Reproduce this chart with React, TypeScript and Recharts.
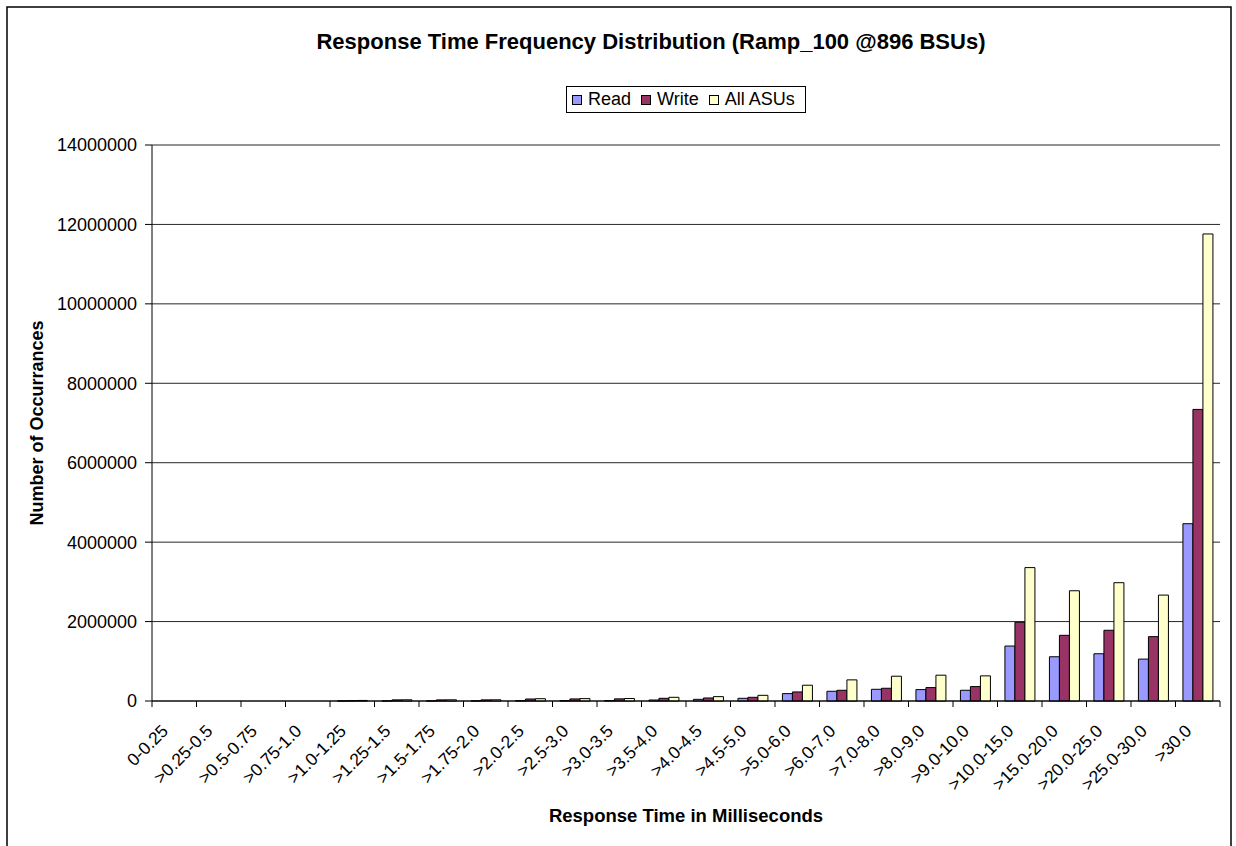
// Response time frequency distribution – grouped bar chart (Recharts)

import { BarChart, Bar, XAxis, YAxis, CartesianGrid } from 'recharts';

const categories = [
  '0-0.25', '>0.25-0.5', '>0.5-0.75', '>0.75-1.0', '>1.0-1.25', '>1.25-1.5',
  '>1.5-1.75', '>1.75-2.0', '>2.0-2.5', '>2.5-3.0', '>3.0-3.5', '>3.5-4.0',
  '>4.0-4.5', '>4.5-5.0', '>5.0-6.0', '>6.0-7.0', '>7.0-8.0', '>8.0-9.0',
  '>9.0-10.0', '>10.0-15.0', '>15.0-20.0', '>20.0-25.0', '>25.0-30.0', '>30.0',
];

const readValues = [
  0, 0, 0, 0, 1000, 2000, 2000, 2000, 8000, 8000, 9000, 25000,
  42000, 68000, 186000, 245000, 295000, 287000, 270000, 1384000, 1114000, 1190000, 1055000, 4464000,
];

const writeValues = [
  0, 0, 0, 0, 8000, 28000, 28000, 28000, 50000, 52000, 54000, 68000,
  76000, 93000, 228000, 270000, 321000, 338000, 363000, 1983000, 1654000, 1781000, 1620000, 7342000,
];

const allValues = [
  0, 0, 0, 0, 14000, 30000, 30000, 30000, 58000, 60000, 63000, 93000,
  110000, 143000, 397000, 532000, 624000, 650000, 633000, 3359000, 2776000, 2979000, 2667000, 11760000,
];

const yTicks = [0, 2000000, 4000000, 6000000, 8000000, 10000000, 12000000, 14000000];

const series = [
  { key: 'read', name: 'Read', color: '#9999FF' },
  { key: 'write', name: 'Write', color: '#993366' },
  { key: 'all', name: 'All ASUs', color: '#FFFFCC' },
];

const data = categories.map((name, i) => ({
  name,
  read: readValues[i],
  write: writeValues[i],
  all: allValues[i],
}));

const WIDTH = 1236;
const HEIGHT = 846;
const PLOT_LEFT = 152;
const PLOT_RIGHT = 1220;
const PLOT_TOP = 145;
const PLOT_BOTTOM = 701;
const Y_AXIS_W = 80;
const X_AXIS_H = 90;
const FONT = '"Liberation Sans", Arial, sans-serif';

const halfBand = (PLOT_RIGHT - PLOT_LEFT) / categories.length / 2;

function XTick({ x, y, payload, index }: any) {
  return (
    <g transform={`translate(${x},${y})`}>
      {index === 0 && <line x1={-halfBand} y1={0} x2={-halfBand} y2={6} stroke="#000" />}
      <line x1={halfBand} y1={0} x2={halfBand} y2={6} stroke="#000" />
      <text
        x={0}
        y={0}
        transform="translate(-5,31) rotate(-45)"
        textAnchor="end"
        fontSize={17.5}
        fontFamily={FONT}
        fill="#000"
      >
        {payload.value}
      </text>
    </g>
  );
}

function ChartLegend() {
  return (
    <div
      style={{
        position: 'absolute',
        left: 566,
        top: 86,
        width: 240,
        height: 27,
        boxSizing: 'border-box',
        border: '1px solid #000',
        background: '#fff',
        display: 'flex',
        alignItems: 'center',
        paddingLeft: 5,
        whiteSpace: 'nowrap',
        fontFamily: FONT,
        fontSize: 18,
        color: '#000',
      }}
    >
      {series.map((s, i) => (
        <span
          key={s.key}
          style={{ display: 'flex', alignItems: 'center', flexShrink: 0, marginRight: i < series.length - 1 ? 10 : 0 }}
        >
          <span
            style={{
              display: 'inline-block',
              width: 10,
              height: 10,
              boxSizing: 'border-box',
              border: '1.5px solid #000',
              background: s.color,
              marginRight: 6,
            }}
          />
          {s.name}
        </span>
      ))}
    </div>
  );
}

export default function App() {
  return (
    <div style={{ position: 'absolute', left: 0, top: 0, width: WIDTH, height: HEIGHT, background: '#fff' }}>
      <BarChart
        width={WIDTH}
        height={HEIGHT}
        data={data}
        margin={{
          top: PLOT_TOP,
          right: WIDTH - PLOT_RIGHT,
          bottom: HEIGHT - PLOT_BOTTOM - X_AXIS_H,
          left: PLOT_LEFT - Y_AXIS_W,
        }}
        barCategoryGap="16.7%"
        barGap={0}
      >
        <CartesianGrid vertical={false} stroke="#000" strokeOpacity={0.85} />
        <XAxis
          dataKey="name"
          interval={0}
          height={X_AXIS_H}
          tickLine={false}
          tickSize={0}
          tickMargin={0}
          axisLine={{ stroke: '#000' }}
          tick={<XTick />}
        />
        <XAxis xAxisId="top" dataKey="name" orientation="top" height={0} tick={false} tickLine={false} axisLine={{ stroke: '#808080', strokeWidth: 2 }} />
        <YAxis
          width={Y_AXIS_W}
          domain={[0, 14000000]}
          ticks={yTicks}
          interval={0}
          tickSize={7}
          tickMargin={8}
          axisLine={{ stroke: '#000' }}
          tickLine={{ stroke: '#000' }}
          tick={{ fontSize: 18, fontFamily: FONT, fill: '#000' }}
        />
        <YAxis yAxisId="right" orientation="right" width={0} domain={[0, 14000000]} tick={false} tickLine={false} axisLine={{ stroke: '#808080', strokeWidth: 1.5 }} />
        {series.map((s) => (
          <Bar key={s.key} dataKey={s.key} name={s.name} fill={s.color} stroke="#000" strokeWidth={1} isAnimationActive={false} />
        ))}
      </BarChart>

      <svg width={WIDTH} height={HEIGHT} style={{ position: 'absolute', left: 0, top: 0, pointerEvents: 'none' }}>
        <rect x={7} y={7} width={1224} height={HEIGHT} fill="none" stroke="#000" strokeWidth={1.5} />
        <text x={651} y={49} textAnchor="middle" fontFamily={FONT} fontWeight="bold" fontSize={22} fill="#000">
          Response Time Frequency Distribution (Ramp_100 @896 BSUs)
        </text>
        <text x={686} y={822} textAnchor="middle" fontFamily={FONT} fontWeight="bold" fontSize={18.5} fill="#000">
          Response Time in Milliseconds
        </text>
        <text
          transform="translate(43,423) rotate(-90)"
          textAnchor="middle"
          fontFamily={FONT}
          fontWeight="bold"
          fontSize={18}
          fill="#000"
        >
          Number of Occurrances
        </text>
      </svg>

      <ChartLegend />
    </div>
  );
}
